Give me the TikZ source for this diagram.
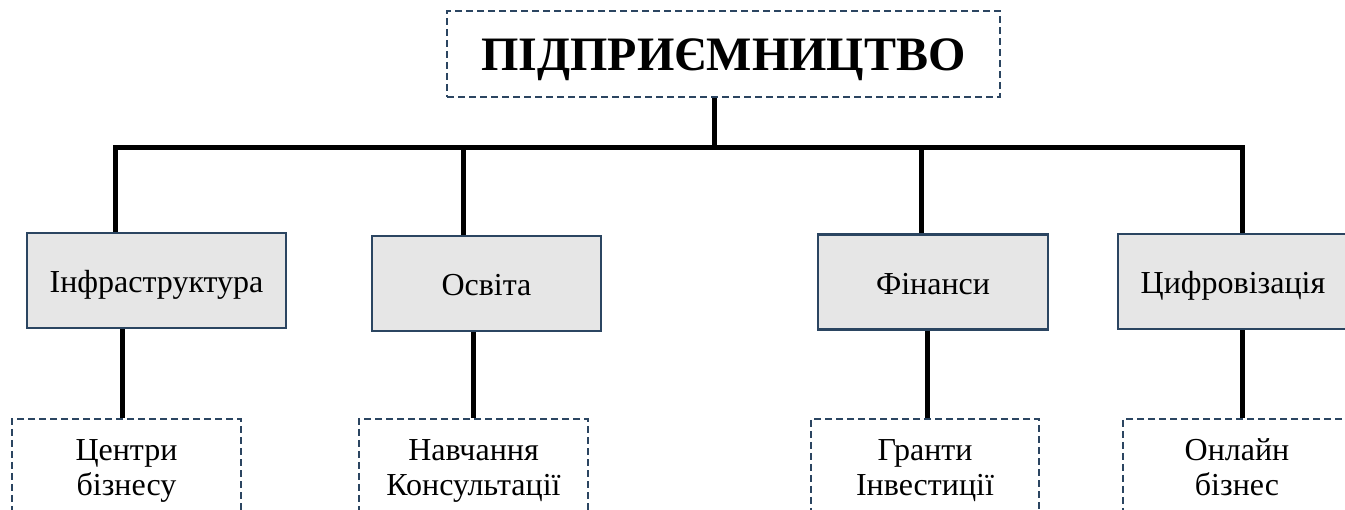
\documentclass[tikz,border=0pt]{standalone}
\usepackage{fontspec}
\setmainfont{Liberation Serif}
\definecolor{edgeblue}{HTML}{2B4561}
\definecolor{boxgrey}{HTML}{E6E6E6}
\begin{document}
\begin{tikzpicture}[x=1pt,y=-1pt,
  solidbox/.style={draw=edgeblue,line width=2.4pt,fill=boxgrey,inner sep=0pt,
     minimum height=95pt,font=\fontsize{32}{35}\selectfont,align=center,
     text height=25pt,text depth=0pt},
  dashbox/.style={draw=edgeblue,line width=2.2pt,dash pattern=on 7pt off 4pt,fill=white,
     inner sep=0pt,minimum height=104pt,font=\fontsize{32}{35}\selectfont,align=center},
  conn/.style={line width=5pt,draw=black,line join=miter}]
\useasboundingbox (0,0) rectangle (1345,510);
\clip (0,0) rectangle (1345,510);
% coordinates of the connector lines
\coordinate (busy) at (0,147.5);
\coordinate (t0) at (714,0);
\coordinate (v1) at (115,0);
\coordinate (v2) at (463,0);
\coordinate (v3) at (921,0);
\coordinate (v4) at (1242,0);
\coordinate (w1) at (122,0);
\coordinate (w2) at (473,0);
\coordinate (w3) at (927,0);
\coordinate (w4) at (1242,0);
% nodes
\node[draw=edgeblue,line width=2.2pt,dash pattern=on 7pt off 4pt,inner sep=0pt,
      minimum width=553pt,minimum height=86pt,font=\fontsize{48}{52}\selectfont\bfseries,
      text height=34pt,text depth=0pt]
      (top) at (723.5,54) {ПІДПРИЄМНИЦТВО};
\node[solidbox,minimum width=259pt] (box1) at (156.5,280.5) {Інфраструктура};
\node[solidbox,minimum width=229pt] (box2) at (486.5,283.5) {Освіта};
\node[solidbox,minimum width=230pt] (box3) at (933,282) {Фінанси};
\node[solidbox,minimum width=230pt] (box4) at (1233,281.5) {Цифровізація};
\node[dashbox,minimum width=229pt] (boxA) at (126.5,471) {\strut Центри\\\strut бізнесу};
\node[dashbox,minimum width=229pt] (boxB) at (473.5,471) {\strut Навчання\\\strut Консультації};
\node[dashbox,minimum width=228pt] (boxC) at (925,471) {\strut Гранти\\\strut Інвестиції};
\node[dashbox,minimum width=228pt] (boxD) at (1237,471) {\strut Онлайн\\\strut бізнес};
% connectors
\draw[conn] (t0 |- top.south) -- (t0 |- busy);
\draw[conn] (v1 |- box1.north) -- (v1 |- busy) -- (v4 |- busy) -- (v4 |- box4.north);
\draw[conn] (v2 |- busy) -- (v2 |- box2.north);
\draw[conn] (v3 |- busy) -- (v3 |- box3.north);
\draw[conn] (w1 |- box1.south) -- (w1 |- boxA.north);
\draw[conn] (w2 |- box2.south) -- (w2 |- boxB.north);
\draw[conn] (w3 |- box3.south) -- (w3 |- boxC.north);
\draw[conn] (w4 |- box4.south) -- (w4 |- boxD.north);
\end{tikzpicture}
\end{document}
